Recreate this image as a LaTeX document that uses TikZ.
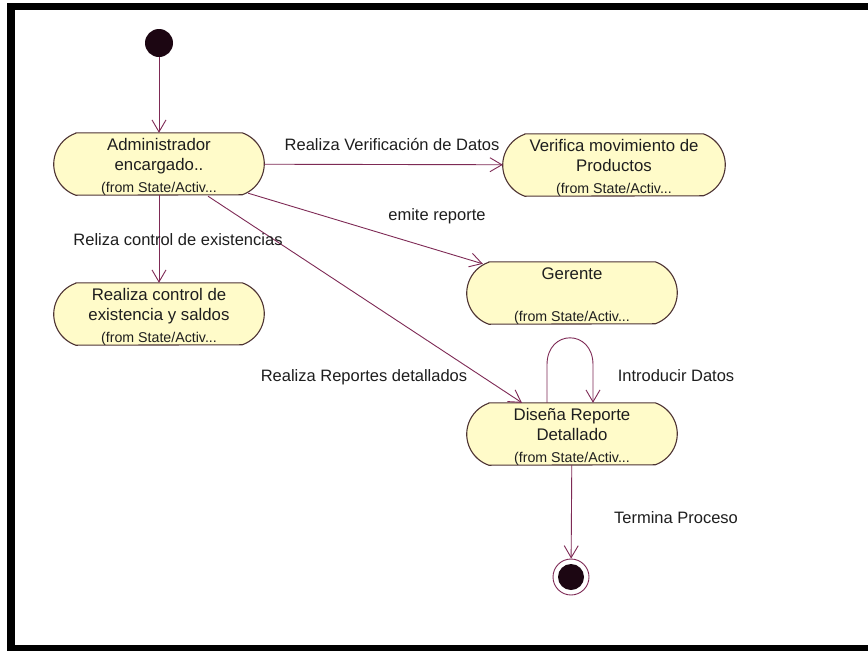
\documentclass[tikz,border=0pt]{standalone}
\usepackage{fontspec}
\setmainfont{Liberation Sans}
\usetikzlibrary{arrows.meta,calc}
\definecolor{statefill}{HTML}{FFFBC9}
\definecolor{stateline}{HTML}{4E3434}
\definecolor{flowline}{HTML}{7E2A55}
\definecolor{ink}{HTML}{1E1E1E}
\definecolor{dot}{HTML}{1C0612}

% outline of an activity state: straight top and bottom, arched sides
\newcommand\stateoutline[1]{%
  \path[stateshape] ([xshift=22pt]#1.north west) -- ([xshift=-22pt]#1.north east)
    arc[start angle=-70.9, end angle=70.9, radius=32.8]
    -- ([xshift=22pt]#1.south west)
    arc[start angle=109.1, end angle=250.9, radius=32.8] -- cycle;}

\begin{document}
\begin{tikzpicture}[x=1pt,y=-1pt,
  statebox/.style={minimum width=#1, minimum height=62pt, inner sep=0pt},
  statebox/.default=210pt,
  stateshape/.style={draw=stateline, line width=1.1pt, fill=statefill},
  mainline/.style={font=\fontsize{16.8}{20}\selectfont, text=ink, inner sep=0pt, anchor=base},
  subline/.style={font=\fontsize{14.2}{16}\selectfont, text=ink, inner sep=0pt, anchor=base},
  lbl/.style={font=\fontsize{16.5}{20}\selectfont, text=ink, inner sep=0pt, anchor=base},
  flow/.style={draw=flowline, line width=0.9pt,
    -{Straight Barb[length=12pt,width=14pt,line width=0.9pt]}},
]
% page and frame
\fill[white] (0,0) rectangle (868,651);
\useasboundingbox (0,0) rectangle (868,651);
\fill[black] (7,2.5) rectangle (868,10);
\fill[black] (7,2.5) rectangle (15,651);
\fill[black] (7,645) rectangle (868,651);

% initial and final states
\node[circle, fill=dot, minimum size=28pt, inner sep=0pt] (init) at (159,43) {};
\node[circle, draw=flowline, line width=0.9pt, fill=white, minimum size=36pt, inner sep=0pt] (fin) at (571,577) {};
\node[circle, fill=dot, minimum size=26pt, inner sep=0pt] (finc) at (fin.center) {};

% activity states
\node[statebox] (adm) at (159,164) {};
\node[statebox] (ctl) at (159,314) {};
\node[statebox=222pt] (ver) at (614,165) {};
\node[statebox] (ger) at (572,293) {};
\node[statebox] (dis) at (572,434) {};
\stateoutline{adm}
\stateoutline{ctl}
\stateoutline{ver}
\stateoutline{ger}
\stateoutline{dis}

% state texts
\node[mainline] (adm1) at ($(adm.north)+(0,18)$) {Administrador};
\node[mainline] (adm2) at ($(adm.north)+(0,38)$) {encargado..};
\node[subline] (adm3) at ($(adm.south)+(0,-3)$) {(from State/Activ...};

\node[mainline] (ctl1) at ($(ctl.north)+(0,18)$) {Realiza control de};
\node[mainline] (ctl2) at ($(ctl.north)+(0,38)$) {existencia y saldos};
\node[subline] (ctl3) at ($(ctl.south)+(0,-3)$) {(from State/Activ...};

\node[mainline] (ver1) at ($(ver.north)+(0,18)$) {Verifica movimiento de};
\node[mainline] (ver2) at ($(ver.north)+(0,38)$) {Productos};
\node[subline] (ver3) at ($(ver.south)+(0,-3)$) {(from State/Activ...};

\node[mainline] (ger1) at ($(ger.north)+(0,18)$) {Gerente};
\node[subline] (ger3) at ($(ger.south)+(0,-3)$) {(from State/Activ...};

\node[mainline] (dis1) at ($(dis.north)+(0,18)$) {Diseña Reporte};
\node[mainline] (dis2) at ($(dis.north)+(0,38)$) {Detallado};
\node[subline] (dis3) at ($(dis.south)+(0,-3)$) {(from State/Activ...};

% transitions
\draw[flow] (init) -- (adm);
\draw[flow] (adm) -- (ver);
\draw[flow] (adm) -- (ctl);
\draw[flow] ($(adm.south east)+(-16,-2)$) -- ($(ger.north west)+(16,2)$);
\draw[flow] ($(adm.south)+(49,1)$) -- ($(dis.north)+(-50,0)$);
\coordinate (loopa) at ($(dis.north)+(-25,0)$);
\coordinate (loopb) at ($(dis.north)+(21,0)$);
\draw[flow] (loopa) -- ++(0,-38) .. controls ($(loopa)+(0,-74)$) and ($(loopb)+(0,-74)$) .. ($(loopb)+(0,-38)$) -- (loopb);
\draw[flow] (dis) -- (fin);

% transition labels
\node[lbl] (t1) at (392,150) {Realiza Verificación de Datos};
\node[lbl] (t2) at (437,220) {emite reporte};
\node[lbl] (t3) at (178,245) {Reliza control de existencias};
\node[lbl] (t4) at (364,381) {Realiza Reportes detallados};
\node[lbl] (t5) at (676,381) {Introducir Datos};
\node[lbl] (t6) at (676,523) {Termina Proceso};
\end{tikzpicture}
\end{document}
